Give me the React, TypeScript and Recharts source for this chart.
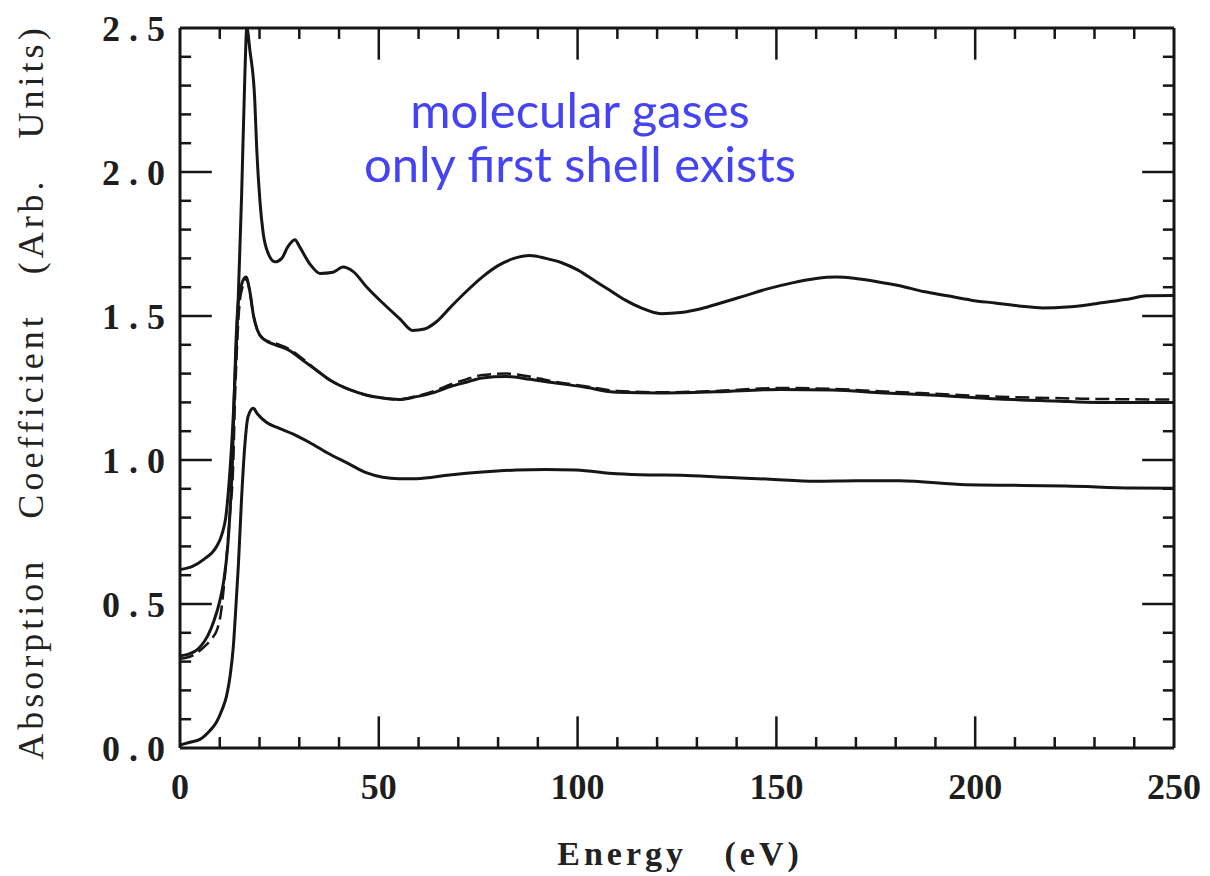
import { LineChart, Line, XAxis, YAxis, ReferenceLine } from 'recharts';

// Energy axis (eV) and absorption values
const topEnergy = [0, 3, 6, 9, 10.5, 11.5, 12.5, 13.5, 14.5, 15.5, 16.3, 16.8, 17.6, 18.8, 19.3, 20.1, 20.9, 22.1, 23.9, 25.6, 27.1, 28.9, 30.1, 32.7, 35.2, 38.5, 41, 43.5, 47, 51, 55.3, 58.5, 61.5, 64.5, 68, 72, 76, 80, 84, 88, 92, 96, 100, 104, 108, 112, 116, 121, 126, 131, 136, 142, 148, 154, 160, 165, 170, 175, 181, 187, 193, 199, 205, 211, 217, 223, 229, 234, 239, 243, 250];
const topMu = [0.62, 0.63, 0.655, 0.695, 0.74, 0.8, 0.95, 1.18, 1.5, 1.92, 2.33, 2.5, 2.42, 2.25, 2.08, 1.9, 1.79, 1.72, 1.688, 1.7, 1.74, 1.765, 1.74, 1.68, 1.648, 1.652, 1.67, 1.655, 1.6, 1.545, 1.49, 1.45, 1.455, 1.48, 1.53, 1.585, 1.635, 1.675, 1.7, 1.71, 1.7, 1.685, 1.66, 1.625, 1.59, 1.555, 1.528, 1.508, 1.512, 1.525, 1.545, 1.57, 1.595, 1.615, 1.63, 1.635, 1.63, 1.62, 1.605, 1.585, 1.57, 1.555, 1.545, 1.535, 1.528, 1.531, 1.54, 1.55, 1.56, 1.57, 1.571];

const midEnergy = [0, 2, 5, 7, 8.5, 10, 11, 12, 12.7, 13.2, 13.6, 14, 14.6, 15.5, 16.6, 17.5, 18.5, 19.5, 21, 24, 27.5, 31, 34.5, 38, 42.5, 47, 51, 55, 59.5, 64, 68, 72, 76, 82, 88, 93, 101, 110, 121, 135, 151, 164, 177, 190, 206, 220, 231, 250];
const midMu = [0.32, 0.325, 0.35, 0.39, 0.44, 0.51, 0.58, 0.7, 0.85, 1.0, 1.2, 1.38, 1.54, 1.61, 1.635, 1.59, 1.5, 1.45, 1.42, 1.4, 1.38, 1.345, 1.31, 1.275, 1.245, 1.225, 1.215, 1.21, 1.22, 1.235, 1.255, 1.27, 1.285, 1.29, 1.28, 1.27, 1.255, 1.235, 1.233, 1.237, 1.245, 1.243, 1.233, 1.225, 1.212, 1.205, 1.2, 1.2];

const dashEnergy = [0, 3, 6, 8, 9.3, 10.3, 11.3, 12.1, 12.6, 13.4, 13.8, 14.3, 14.9, 15.7, 16.6, 17.5, 18.5, 19.5, 21, 24, 27.5, 31, 34.5, 38, 42.5, 47, 51, 55, 59.5, 64, 68, 72, 76, 82, 88, 93, 101, 110, 121, 135, 151, 164, 177, 190, 206, 220, 231, 250];
const dashMu = [0.31, 0.32, 0.35, 0.38, 0.41, 0.47, 0.6, 0.73, 0.82, 0.99, 1.2, 1.38, 1.53, 1.6, 1.63, 1.59, 1.5, 1.45, 1.42, 1.405, 1.385, 1.35, 1.31, 1.275, 1.245, 1.225, 1.215, 1.21, 1.222, 1.24, 1.262, 1.28, 1.295, 1.3, 1.29, 1.275, 1.258, 1.24, 1.235, 1.24, 1.25, 1.247, 1.238, 1.23, 1.22, 1.215, 1.212, 1.21];

const lowEnergy = [0, 2.5, 5, 7.5, 9.2, 10.5, 11.7, 12.6, 13.4, 14.1, 14.7, 15.5, 16.3, 17.1, 18.4, 19.5, 21.8, 25, 28.5, 32.7, 37, 42.7, 47, 51, 55, 59.5, 67.8, 76, 84.6, 92, 99.6, 109.8, 118, 126, 137, 147.5, 160, 170, 181, 197.7, 210, 222.8, 239.5, 250];
const lowMu = [0.01, 0.02, 0.03, 0.06, 0.09, 0.13, 0.18, 0.25, 0.35, 0.5, 0.64, 0.87, 1.05, 1.15, 1.18, 1.16, 1.13, 1.11, 1.09, 1.06, 1.025, 0.985, 0.955, 0.94, 0.935, 0.935, 0.948, 0.958, 0.965, 0.967, 0.965, 0.952, 0.948, 0.947, 0.94, 0.934, 0.926, 0.928, 0.928, 0.914, 0.912, 0.91, 0.903, 0.902];

const xMajorTicks = [0, 50, 100, 150, 200, 250];
const xMinorTicks = [10, 20, 30, 40, 60, 70, 80, 90, 110, 120, 130, 140, 160, 170, 180, 190, 210, 220, 230, 240];
const yMajorTicks = [0, 0.5, 1, 1.5, 2, 2.5];
const yMinorTicks = [0.1, 0.2, 0.3, 0.4, 0.6, 0.7, 0.8, 0.9, 1.1, 1.2, 1.3, 1.4, 1.6, 1.7, 1.8, 1.9, 2.1, 2.2, 2.3, 2.4];

const X_MAX = 250;
const Y_MAX = 2.5;

const toPoints = (xs: number[], ys: number[]) => xs.map((x, i) => ({ x, y: ys[i] }));

const ink = '#161616';
const tickFont = { fontFamily: 'Liberation Serif', fontWeight: 700, fontSize: 36, fill: '#1e1e1e' };
const frame = { stroke: ink, strokeWidth: 3 };

const spaced = (v: number) => v.toFixed(1).split('').join(' ');

// inward tick marks on all four sides, lengths in data units (~32px major, ~11px minor)
const major = { dx: 8, dy: 0.11 };
const minor = { dx: 2.8, dy: 0.038 };

function tickSegments() {
  const segs: { x: number; y: number }[][] = [];
  const innerX = xMajorTicks.filter((t) => t > 0 && t < X_MAX);
  const innerY = yMajorTicks.filter((t) => t > 0 && t < Y_MAX);
  innerX.forEach((t) => {
    segs.push([{ x: t, y: 0 }, { x: t, y: major.dy }]);
    segs.push([{ x: t, y: Y_MAX }, { x: t, y: Y_MAX - major.dy }]);
  });
  xMinorTicks.forEach((t) => {
    segs.push([{ x: t, y: 0 }, { x: t, y: minor.dy }]);
    segs.push([{ x: t, y: Y_MAX }, { x: t, y: Y_MAX - minor.dy }]);
  });
  innerY.forEach((t) => {
    segs.push([{ x: 0, y: t }, { x: major.dx, y: t }]);
    segs.push([{ x: X_MAX, y: t }, { x: X_MAX - major.dx, y: t }]);
  });
  yMinorTicks.forEach((t) => {
    segs.push([{ x: 0, y: t }, { x: minor.dx, y: t }]);
    segs.push([{ x: X_MAX, y: t }, { x: X_MAX - minor.dx, y: t }]);
  });
  return segs;
}

export default function App() {
  return (
    <div style={{ position: 'absolute', left: 0, top: 0, width: 1210, height: 876, background: '#fff' }}>
      <LineChart width={1210} height={876} margin={{ top: 28, right: 36, bottom: 0, left: 0 }}>
        <XAxis type="number" dataKey="x" domain={[0, X_MAX]} allowDataOverflow ticks={xMajorTicks} interval={0} tickSize={0} tickMargin={25} tickLine={false} axisLine={frame} height={128} tick={tickFont} />
        <YAxis type="number" domain={[0, Y_MAX]} allowDataOverflow ticks={yMajorTicks} interval={0} tickSize={0} tickMargin={15} tickLine={false} axisLine={frame} width={180} tick={tickFont} tickFormatter={spaced} />

        <ReferenceLine y={Y_MAX} {...frame} />
        <ReferenceLine x={X_MAX} {...frame} />
        {tickSegments().map((seg, i) => (
          <ReferenceLine key={i} segment={seg} stroke={ink} strokeWidth={2.5} />
        ))}

        <Line data={toPoints(topEnergy, topMu)} dataKey="y" type="monotone" stroke={ink} strokeWidth={3} dot={false} isAnimationActive={false} />
        <Line data={toPoints(dashEnergy, dashMu)} dataKey="y" type="monotone" stroke={ink} strokeWidth={2.5} strokeDasharray="14 6" dot={false} isAnimationActive={false} />
        <Line data={toPoints(midEnergy, midMu)} dataKey="y" type="monotone" stroke={ink} strokeWidth={3} dot={false} isAnimationActive={false} />
        <Line data={toPoints(lowEnergy, lowMu)} dataKey="y" type="monotone" stroke={ink} strokeWidth={3} dot={false} isAnimationActive={false} />
      </LineChart>

      <div style={{ position: 'absolute', left: 31, top: 392, transform: 'translate(-50%, -50%) rotate(-90deg)', whiteSpace: 'pre', fontFamily: 'Liberation Serif', fontSize: 36, letterSpacing: 4, color: '#222' }}>
        {'Absorption   Coefficient   (Arb.   Units)'}
      </div>
      <div style={{ position: 'absolute', left: 680, top: 835, transform: 'translateX(-50%)', whiteSpace: 'pre', fontFamily: 'Liberation Serif', fontWeight: 700, fontSize: 34, letterSpacing: 4, color: '#222' }}>
        {'Energy   (eV)'}
      </div>
      <div style={{ position: 'absolute', left: 580, top: 82, transform: 'translateX(-50%)', textAlign: 'center', fontFamily: 'Lato', fontSize: 49, lineHeight: '54px', color: '#4444f4', whiteSpace: 'nowrap' }}>
        <div>molecular gases</div>
        <div>only first shell exists</div>
      </div>
    </div>
  );
}
